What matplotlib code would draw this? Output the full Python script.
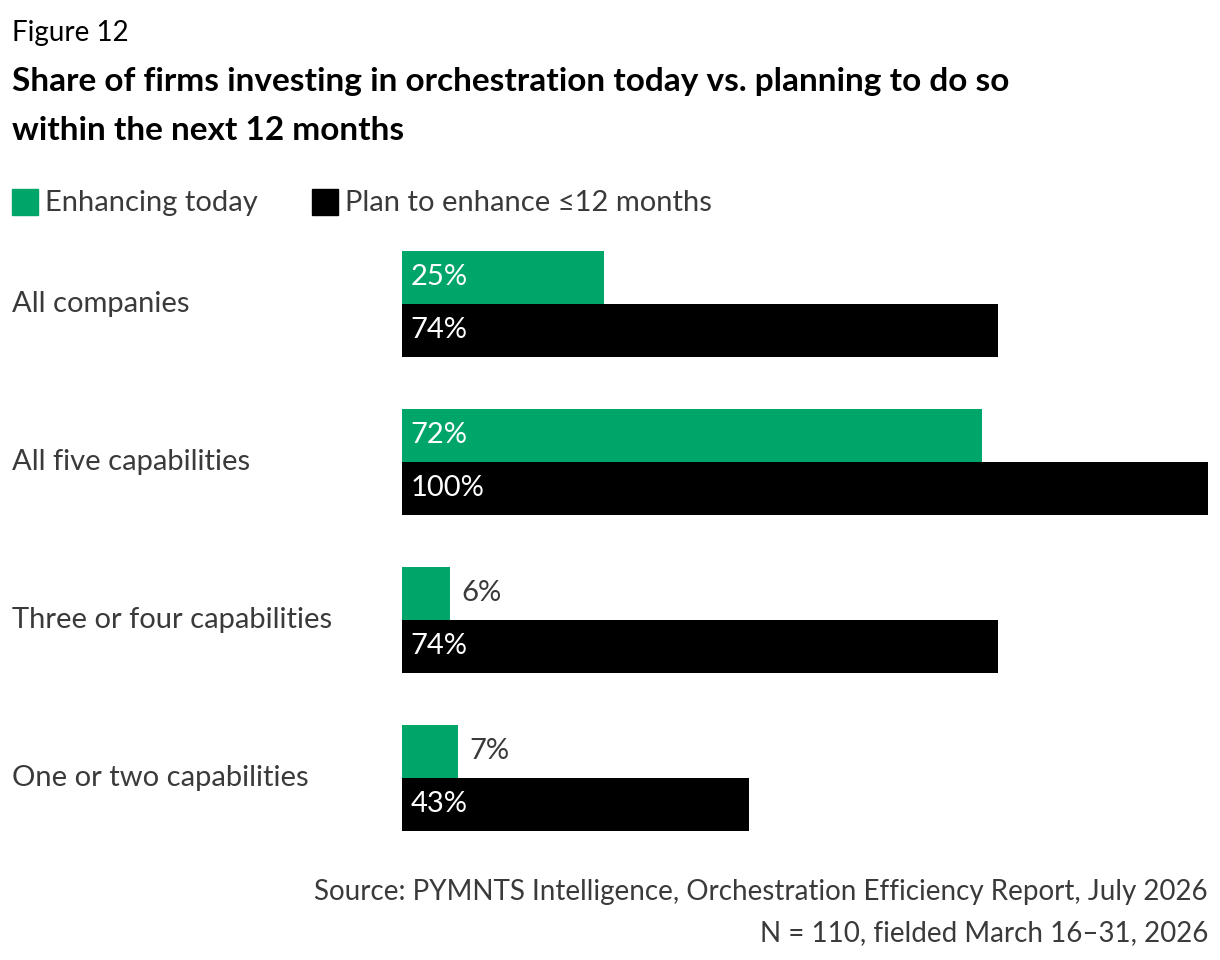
import matplotlib
matplotlib.use("Agg")
import matplotlib.pyplot as plt

categories = ["All companies", "All five capabilities", "Three or four capabilities", "One or two capabilities"]
enhancing_today = [25, 72, 6, 7]
plan_12m = [74, 100, 74, 43]
series_names = ["Enhancing today", "Plan to enhance \u226412 months"]

GREEN = "#00A56A"
BLACK = "#000000"
GREY = "#3a3a3a"
plt.rcParams['font.family'] = ['Lato', 'DejaVu Sans']

fig = plt.figure(figsize=(12.2, 9.6), dpi=100)
ax = fig.add_axes([402/1220, 1-831/960, (1208-402)/1220, (831-250)/960])
ax.set_xlim(0, 100)
ax.set_ylim(831, 250)
ax.axis('off')

h = 53
for i, (cat, g, b) in enumerate(zip(categories, enhancing_today, plan_12m)):
    c = 304 + 158*i
    yg, yb = c - h/2, c + h/2
    ax.barh(yg, g, height=h, color=GREEN)
    ax.barh(yb, b, height=h, color=BLACK)
    for y, v in ((yg, g), (yb, b)):
        if v >= 15:
            ax.text(1.1, y, f"{v}%", color="white", va="center", ha="left", fontsize=21)
        else:
            ax.text(v + 1.4, y, f"{v}%", color=GREY, va="center", ha="left", fontsize=21)
    fig.text(12/1220, 1 - c/960, cat, color=GREY, va="center", ha="left", fontsize=21)

fig.text(12/1220, 1-33/960, "Figure 12", fontsize=20, color=BLACK, va="center")
fig.text(12/1220, 1-82/960, "Share of firms investing in orchestration today vs. planning to do so",
         fontsize=24, fontweight="bold", color=BLACK, va="center")
fig.text(12/1220, 1-130/960, "within the next 12 months",
         fontsize=24, fontweight="bold", color=BLACK, va="center")

# legend
fig.patches.append(plt.Rectangle((12/1220, 1-215/960), 26/1220, 26/960, transform=fig.transFigure, color=GREEN))
fig.text(45/1220, 1-203/960, series_names[0], fontsize=21, color=GREY, va="center")
fig.patches.append(plt.Rectangle((312/1220, 1-215/960), 26/1220, 26/960, transform=fig.transFigure, color=BLACK))
fig.text(345/1220, 1-203/960, series_names[1], fontsize=21, color=GREY, va="center")

fig.text(1208/1220, 1-892/960, "Source: PYMNTS Intelligence, Orchestration Efficiency Report, July 2026",
         fontsize=20, color=GREY, ha="right", va="center")
fig.text(1208/1220, 1-933/960, "N = 110, fielded March 16\u201331, 2026",
         fontsize=20, color=GREY, ha="right", va="center")

fig.savefig("out.png", dpi=100)
